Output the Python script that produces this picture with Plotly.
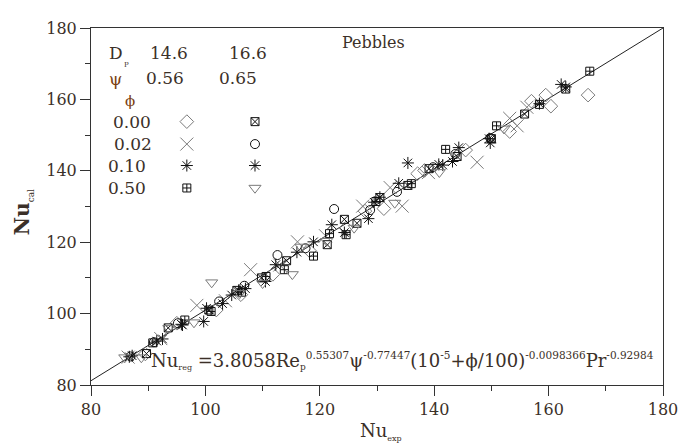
import plotly.graph_objects as go

# ---------------- data ----------------
# Dp = 14.6, psi = 0.56
A_x = [89.5, 95.0, 101.9, 106.2, 111.8, 118.2, 124.6, 127.9, 131.2, 137.1, 138.3, 145.5, 153.2, 157.0, 159.5, 160.4, 166.9]
A_y = [88.7, 97.3, 101.0, 105.3, 111.0, 117.6, 124.0, 128.7, 129.4, 139.2, 140.1, 145.8, 151.0, 159.5, 161.2, 158.1, 161.2]
B_x = [86.5, 92.2, 98.5, 103.5, 107.9, 113.0, 116.1, 121.0, 127.5, 132.3, 134.4, 139.0, 147.5, 153.2, 154.5, 156.2]
B_y = [87.8, 93.0, 102.3, 103.6, 112.3, 113.6, 120.1, 121.8, 130.1, 135.3, 130.1, 139.5, 142.4, 154.7, 152.6, 157.8]
C_x = [86.7, 92.5, 96.0, 99.7, 104.6, 107.0, 112.3, 118.9, 122.1, 128.5, 130.5, 135.4, 141.5, 144.3, 149.8, 158.4, 162.2]
C_y = [87.9, 92.9, 96.8, 97.8, 105.2, 107.0, 113.7, 120.1, 124.9, 126.6, 132.6, 142.2, 141.6, 146.5, 147.8, 158.8, 164.2]
D_x = [90.8, 96.4, 101.0, 106.3, 110.6, 113.8, 118.9, 121.7, 124.6, 129.8, 136.0, 142.0, 150.9, 158.4, 167.2]
D_y = [91.8, 98.2, 100.6, 106.0, 110.4, 112.3, 116.1, 122.4, 122.1, 131.4, 136.4, 146.0, 152.6, 158.6, 167.9]
# Dp = 16.6, psi = 0.65
E_x = [89.7, 93.5, 100.6, 105.5, 109.8, 114.2, 121.3, 124.3, 126.5, 130.5, 135.4, 139.1, 144.0, 150.0, 155.8, 163.0]
E_y = [88.8, 96.0, 101.0, 106.5, 110.0, 114.8, 119.3, 126.4, 125.3, 132.5, 135.9, 140.6, 144.0, 149.0, 155.9, 162.9]
F_x = [86.9, 91.0, 95.2, 102.4, 106.8, 112.6, 117.5, 122.5, 128.8, 133.5, 139.8, 143.7, 149.8]
F_y = [88.0, 92.0, 97.3, 103.4, 107.8, 116.4, 118.3, 129.3, 129.0, 134.1, 141.0, 144.7, 149.2]
G_x = [87.2, 91.5, 95.8, 100.2, 103.0, 105.8, 110.5, 116.0, 124.3, 129.5, 133.8, 140.8, 143.2, 149.6, 163.0]
G_y = [88.2, 92.3, 97.0, 101.5, 102.8, 106.5, 109.0, 117.2, 122.7, 131.2, 136.5, 141.8, 142.6, 149.0, 163.5]
H_x = [85.9, 88.8, 93.6, 98.0, 101.1, 106.0, 110.0, 115.2, 116.7, 121.2, 126.0, 133.1, 140.9, 152.2]
H_y = [87.7, 87.7, 95.9, 97.5, 108.7, 105.7, 108.5, 111.0, 118.7, 120.3, 124.0, 131.0, 139.6, 151.8]

LINE_X = [80, 180]
LINE_Y = [81.2, 180]

PHI_LABELS = ["0.00", "0.02", "0.10", "0.50"]
DP_LABELS = ["14.6", "16.6"]
PSI_LABELS = ["0.56", "0.65"]

# ---------------- styling ----------------
FONT = "DejaVu Serif"
TXT = "#3b3028"
GREEK = "#7b3f12"
GRAY = "#7a7a7a"
BLACK = "#111111"

# page geometry (browser body adds an 8px offset)
OFF = 8
W, H = 689 - OFF, 446 - OFF
L, T = 91 - OFF, 19 - OFF
R = W - (670 - OFF)
B = H - (385 - OFF)
PW, PH = W - L - R, H - T - B

def fx(px):
    return (px - OFF - L) / PW

def fy(py):
    return (H - B - (py - OFF)) / PH

styles = [
    (A_x, A_y, "diamond-open", 10.5, GRAY),
    (B_x, B_y, "x-thin-open", 13, GRAY),
    (C_x, C_y, "asterisk-open", 10, BLACK),
    (D_x, D_y, "square-cross-open", 8, BLACK),
    (E_x, E_y, "square-x-open", 8, BLACK),
    (F_x, F_y, "circle-open", 9, BLACK),
    (G_x, G_y, "asterisk-open", 10, BLACK),
    (H_x, H_y, "triangle-down-open", 10.5, GRAY),
]

fig = go.Figure()
fig.add_trace(go.Scatter(x=LINE_X, y=LINE_Y, mode="lines",
                         line=dict(color="#222222", width=1), showlegend=False))
for xs, ys, sym, sz, col in styles:
    fig.add_trace(go.Scatter(x=xs, y=ys, mode="markers", showlegend=False,
                             marker=dict(symbol=sym, size=sz, color=col,
                                         line=dict(color=col, width=1))))

# legend glyphs on an overlay axis spanning the plot area in fractions
col_px = [188, 257]
row_py = [115, 138, 160, 183]
for i, (xs, ys, sym, sz, col) in enumerate(styles):
    c = i // 4
    r = i % 4
    fig.add_trace(go.Scatter(x=[fx(col_px[c])], y=[fy(row_py[r])], mode="markers",
                             xaxis="x2", yaxis="y2", showlegend=False,
                             marker=dict(symbol=sym, size=sz, color=col,
                                         line=dict(color=col, width=1))))

ann = []
def text(px, py, s, size=17, color=TXT, xanchor="center", **kw):
    ann.append(dict(x=fx(px), y=fy(py), xref="paper", yref="paper", text=s,
                    showarrow=False, xanchor=xanchor, yanchor="middle",
                    font=dict(family=FONT, size=size, color=color), **kw))

text(107, 45, "D", xanchor="left")
text(127, 57, "P", size=7)
text(170, 45, DP_LABELS[0])
text(250, 45, DP_LABELS[1])
text(107, 71, "ψ", color=GREEK, xanchor="left")
text(166, 70, PSI_LABELS[0])
text(240, 70, PSI_LABELS[1])
text(130, 94, "ϕ", color=GREEK, size=15)
for lab, py, px in zip(PHI_LABELS, row_py, [133, 134, 127, 127]):
    text(px, py, lab)
text(377, 34, "Pebbles", size=16)

eq = ("Nu<sub><span style='font-size:8px'>reg</span></sub> =3.8058Re"
      "<sub><span style='font-size:9px'>p</span></sub>"
      "<sup><span style='font-size:10.5px'>0.55307</span></sup>ψ"
      "<sup><span style='font-size:10.5px'>-0.77447</span></sup>(10"
      "<sup><span style='font-size:10.5px'>-5</span></sup>+ϕ/100)"
      "<sup><span style='font-size:10.5px'>-0.0098366</span></sup>Pr"
      "<sup><span style='font-size:10.5px'>-0.92984</span></sup>")
text(150, 360, eq, size=18, xanchor="left")

text(22, 208, "<b>Nu</b><sub><span style='font-size:9px'>cal</span></sub>",
     size=20, textangle=-90)
text(385, 433, "Nu<sub><span style='font-size:8px'>exp</span></sub>", size=18)

axis_common = dict(range=[80, 180], tick0=80, dtick=20, showgrid=False, zeroline=False,
                   showline=True, mirror=True, linecolor="#333333", linewidth=1,
                   ticks="outside", ticklen=10, tickwidth=1, tickcolor="#333333",
                   tickfont=dict(family=FONT, size=16, color=TXT),
                   minor=dict(ticks="outside", ticklen=5, dtick=10, tickwidth=1,
                              tickcolor="#333333", showgrid=False))

fig.update_layout(
    width=W, height=H,
    margin=dict(l=L, r=R, t=T, b=B, pad=0),
    paper_bgcolor="white", plot_bgcolor="white",
    xaxis=axis_common,
    yaxis=axis_common,
    xaxis2=dict(overlaying="x", range=[0, 1], visible=False, fixedrange=True),
    yaxis2=dict(overlaying="y", range=[0, 1], visible=False, fixedrange=True),
    annotations=ann,
    showlegend=False,
)

fig.write_html("out.html")
